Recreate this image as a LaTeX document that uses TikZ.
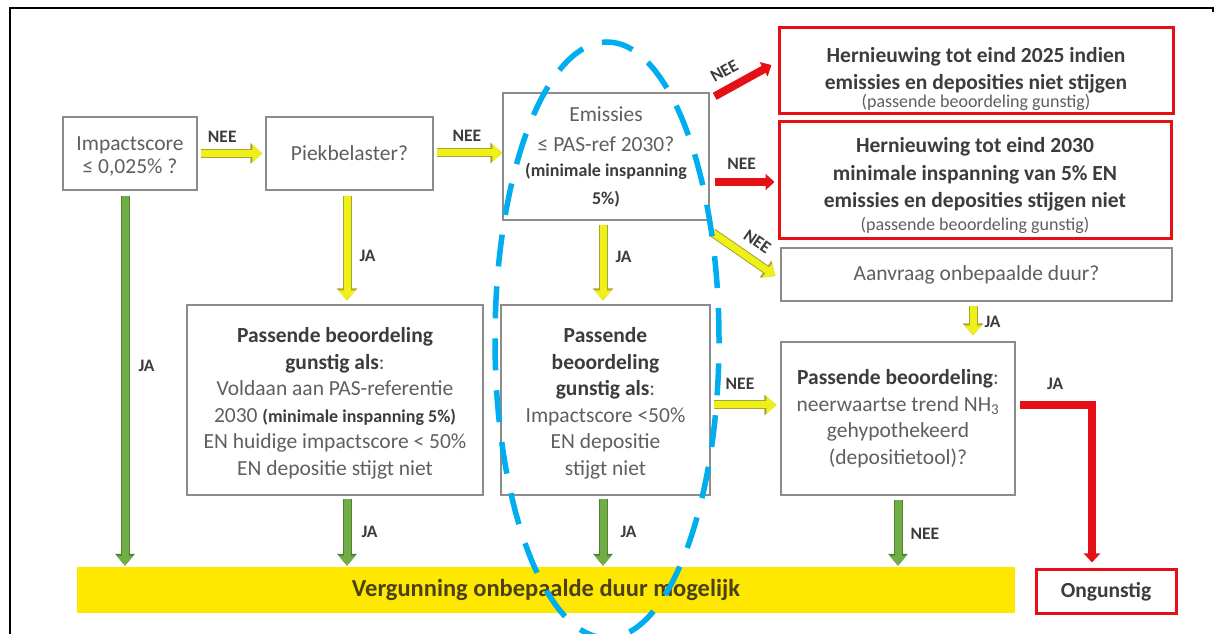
\documentclass[tikz,border=0pt]{standalone}
\usepackage{fontspec}
\setmainfont{Carlito}
\usetikzlibrary{arrows.meta,calc}
\definecolor{boxgray}{RGB}{140,140,140}
\definecolor{txtgray}{RGB}{95,95,95}
\definecolor{txtdark}{RGB}{60,60,60}
\definecolor{myred}{RGB}{228,16,22}
\definecolor{yfill}{RGB}{240,240,25}
\definecolor{yline}{RGB}{165,165,50}
\definecolor{gfill}{RGB}{112,173,71}
\definecolor{gline}{RGB}{80,130,50}
\definecolor{baryel}{RGB}{255,232,0}
\definecolor{bartxt}{RGB}{75,65,25}
\definecolor{cyanb}{RGB}{0,174,239}
\newcommand\mainsz{\fontsize{21.5}{26.5}\selectfont}
\newcommand\smallsz{\fontsize{18}{22}\selectfont}
\newcommand\lblsz{\fontsize{17.5}{19}\selectfont}
\newcommand\bt[1]{{\color{txtdark}\bfseries #1}}
\begin{document}
\begin{tikzpicture}[x=1pt,y=1pt,
  box/.style={draw=boxgray, line width=1.3pt, fill=white, text=txtgray, align=center, inner sep=0pt, font=\mainsz},
  redbox/.style={box, draw=myred, line width=3pt},
  lbl/.style={font=\lblsz\bfseries, text=txtdark, inner sep=1pt},
  yarr/.style={draw=yfill, line width=7pt, -{Triangle[length=10pt,width=17pt]},
    preaction={draw=yline, line width=9pt, -{Triangle[length=12pt,width=20pt]}}},
  garr/.style={draw=gfill, line width=7pt, -{Triangle[length=10pt,width=16pt]},
    preaction={draw=gline, line width=9pt, -{Triangle[length=12pt,width=19pt]}}},
  rarr/.style={draw=myred, line width=8pt, -{Triangle[length=9pt,width=16pt]}},
]
\useasboundingbox (0,0) rectangle (1216,634);
% frame
\draw[line width=2pt] (10,0) -- (10,626) -- (1213,626) -- (1213,622);

% boxes
\node[box, minimum width=134, minimum height=73] (b1) at (130,480.5) {\rule{0pt}{20pt}Impactscore\\[-3pt]\smash{≤} 0,025\% ?};
\node[box, minimum width=167, minimum height=73] (b2) at (349.5,480.5) {Piekbelaster?};
\node[box, minimum width=206, minimum height=127] (b3) at (606,477.5)
  {Emissies\\[3.5pt]≤ PAS-ref 2030?\\[-1.5pt]{\smallsz\bt{(minimale inspanning}}\\[1.5pt]{\smallsz\bt{5\%)}}};
\node[redbox, minimum width=394, minimum height=86] (r1) at (976,563)
  {\rule{0pt}{32pt}\bt{Hernieuwing tot eind 2025 indien}\\[0.5pt]\bt{emissies en deposities niet stijgen}\\[-8.5pt]{\smallsz (passende beoordeling gunstig)}};
\node[redbox, minimum width=392, minimum height=117] (r2) at (975,453.5)
  {\rule{0pt}{26pt}\bt{Hernieuwing tot eind 2030}\\[1.5pt]\bt{minimale inspanning van 5\% EN}\\[0.5pt]\bt{emissies en deposities stijgen niet}\\[-3.5pt]{\smallsz (passende beoordeling gunstig)}};
\node[box, minimum width=391, minimum height=53] (aan) at (976.5,359.5) {Aanvraag onbepaalde duur?};
\node[box, minimum width=234, minimum height=153] (pbr) at (898,215.5)
  {\bt{Passende beoordeling}:\\neerwaartse trend NH\textsubscript{3}\\gehypothekeerd\\(depositietool)?};
\node[box, minimum width=296, minimum height=190] (pbl) at (335,234)
  {\rule{0pt}{22pt}\bt{Passende beoordeling}\\\bt{gunstig als}:\\Voldaan aan PAS-referentie\\2030 {\smallsz\bt{(minimale inspanning 5\%)}}\\EN huidige impactscore < 50\%\\EN depositie stijgt niet};
\node[box, minimum width=209, minimum height=190] (pbm) at (605.5,234)
  {\rule{0pt}{22pt}\bt{Passende}\\\bt{beoordeling}\\\bt{gunstig als}:\\Impactscore <50\%\\EN depositie\\stijgt niet};
\node[redbox, minimum width=140, minimum height=44] (ong) at (1106,42) {\bt{Ongunstig}};
\node[fill=baryel, minimum width=938, minimum height=46, inner sep=0pt, text=bartxt,
  font=\fontsize{24.5}{28}\selectfont\bfseries] (bar) at (546,44) {Vergunning onbepaalde duur mogelijk};

% connector end points
\coordinate (a1s) at ([xshift=3pt]b1.east);
\coordinate (a1e) at ([xshift=-3pt]b2.west);
\coordinate (a2s) at ([xshift=3pt,yshift=0.5pt]b2.east);
\coordinate (a2e) at (a2s -| b3.west);
\coordinate (a3s) at ([shift={(5pt,-4pt)}]b3.north east);
\coordinate (a3e) at ([shift={(-6pt,6pt)}]r1.west);
\coordinate (a4s) at ([shift={(5pt,-25.5pt)}]b3.east);
\coordinate (a4e) at (a4s -| r2.west);
\coordinate (a5s) at ([shift={(3pt,-12pt)}]b3.south east);
\coordinate (a5e) at ([shift={(-5pt,-1.5pt)}]aan.west);
\coordinate (a6s) at ([shift={(-3.5pt,-4pt)}]aan.south);
\coordinate (a6e) at ([yshift=6pt]a6s |- pbr.north);
\coordinate (a7s) at ([shift={(-2.5pt,-5pt)}]b2.south);
\coordinate (a7e) at ([yshift=4pt]a7s |- pbl.north);
\coordinate (a8s) at ([shift={(-3pt,-4pt)}]b3.south);
\coordinate (a8e) at ([yshift=4pt]a8s |- pbm.north);
\coordinate (a9s) at ([shift={(-5pt,-5pt)}]b1.south);
\coordinate (a9e) at ([yshift=1pt]a9s |- bar.north);
\coordinate (a10s) at ([shift={(12pt,-3pt)}]pbl.south);
\coordinate (a10e) at ([yshift=1pt]a10s |- bar.north);
\coordinate (a11s) at ([shift={(-2.5pt,-3pt)}]pbm.south);
\coordinate (a11e) at ([yshift=1pt]a11s |- bar.north);
\coordinate (a12s) at ([shift={(3pt,-5pt)}]pbm.east);
\coordinate (a12e) at ([xshift=-4pt]a12s -| pbr.west);
\coordinate (a13s) at ([yshift=-4pt]pbr.south);
\coordinate (a13e) at ([yshift=1pt]a13s |- bar.north);
\coordinate (a14s) at ([shift={(4pt,13.5pt)}]pbr.east);
\coordinate (a14c) at (1092,0 |- a14s);
\coordinate (a14e) at ([yshift=6pt]a14c |- ong.north);

% connectors
\draw[yarr] (a1s) -- node[lbl, above=6pt, pos=0.35] {NEE} (a1e);
\draw[yarr] (a2s) -- node[lbl, above=7pt, pos=0.46] {NEE} (a2e);
\draw[rarr] (a3s) -- node[lbl, sloped, above=7pt, pos=0.32] {NEE} (a3e);
\draw[rarr] (a4s) -- node[lbl, above=7.5pt, pos=0.45] {NEE} ([xshift=-3pt]a4e);
\draw[yarr] (a5s) -- node[lbl, sloped, above=8pt, pos=0.55] {NEE} (a5e);
\draw[yarr] (a6s) -- node[lbl, right=7pt, pos=0.55] {JA} (a6e);
\draw[yarr] (a7s) -- node[lbl, right=8pt, pos=0.58] {JA} (a7e);
\draw[yarr] (a8s) -- node[lbl, right=8pt, pos=0.43] {JA} (a8e);
\draw[garr] (a9s) -- node[lbl, right=9pt, pos=0.46] {JA} (a9e);
\draw[garr] (a10s) -- node[lbl, right=10pt, pos=0.49] {JA} (a10e);
\draw[garr] (a11s) -- node[lbl, right=13pt, pos=0.49] {JA} (a11e);
\draw[yarr] (a12s) -- node[lbl, above=10.5pt, pos=0.42] {NEE} (a12e);
\draw[garr] (a13s) -- node[lbl, right=8pt, pos=0.51] {NEE} (a13e);
\draw[rarr, line join=miter] (a14s) -- node[lbl, above=10pt, pos=0.49] {JA} (a14c) -- (a14e);

% highlight ellipse
\begin{scope}
\clip (0,0) rectangle (1216,634);
\draw[cyanb, line width=5.5pt, dash pattern=on 32pt off 20pt] (607,294) ellipse [x radius=112, y radius=298];
\end{scope}
\end{tikzpicture}
\end{document}
